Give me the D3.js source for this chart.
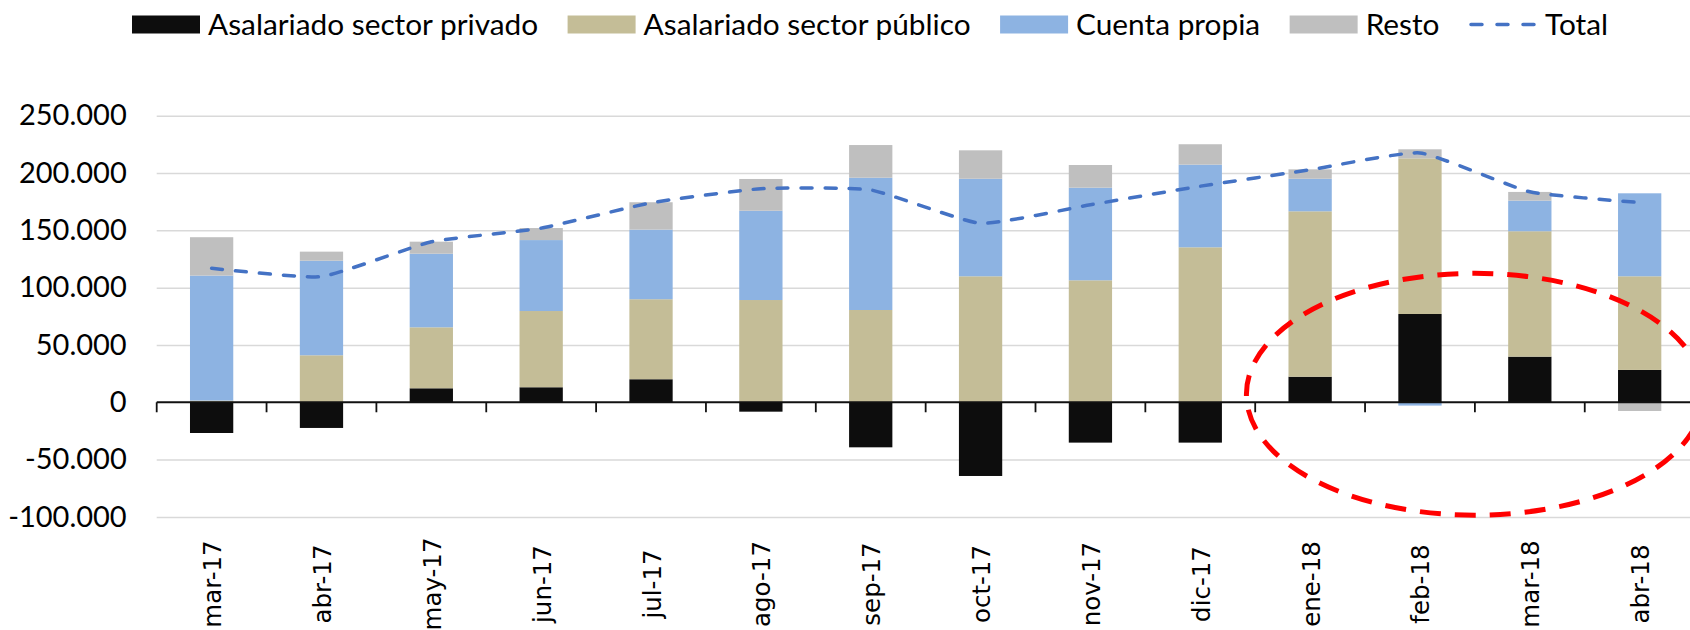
<!DOCTYPE html>
<html>
<head>
<meta charset="utf-8">
<script src="https://cdn.jsdelivr.net/npm/d3@7/dist/d3.min.js"></script>
<style>
  body { margin: 0; background: #fff; }
  svg { display: block; }
</style>
</head>
<body>
<script>
    months = ["mar-17", "abr-17", "may-17", "jun-17", "jul-17", "ago-17", "sep-17",
              "oct-17", "nov-17", "dic-17", "ene-18", "feb-18", "mar-18", "abr-18"]

    privado      = [-26800, -22400, 12200, 13100, 20100, -8200, -39300, -64300, -35200, -35200, 22300, 77000, 39800, 28200]
    publico      = [1500, 41000, 53200, 66500, 69800, 89200, 80500, 109900, 106400, 135200, 144300, 135800, 109400, 81700]
    cuentaPropia = [109000, 82500, 64200, 61900, 60700, 77900, 115400, 85100, 80800, 72100, 28400, -2900, 26700, 72400]
    resto        = [33500, 7900, 10500, 10500, 23900, 27700, 28500, 24800, 19800, 17800, 8200, 7900, 7600, -7600]
    total        = [116900, 109600, 140000, 151900, 174000, 186300, 185200, 156100, 172300, 188500, 202800, 217500, 183600, 174300]

    yTicks = [-100000, -50000, 0, 50000, 100000, 150000, 200000, 250000]

    seriesNames  = ["Asalariado sector privado", "Asalariado sector público", "Cuenta propia", "Resto"]
    seriesColors = ["#0d0d0d", "#c4bd97", "#8db3e2", "#bfbfbf"]
    totalName = "Total"
    totalColor = "#4472c4"


width = 1690
height = 630
plotLeft = 156.7
catStep = 109.85
labelFont = "Lato, 'Open Sans', sans-serif"

var svg = d3.select("body")
    .append("svg")
    .attr("width", width)
    .attr("height", height)
    .style("background", "#fff");

x = d3.scaleBand().domain(months).range([plotLeft, plotLeft + catStep * months.length])
y = d3.scaleLinear().domain([yTicks[0], yTicks[yTicks.length - 1]]).range([516.9, 115.7])
plotRight = x.range()[1]

fmt = d3.formatLocale({decimal: ",", thousands: ".", grouping: [3], currency: ["", ""], minus: "-"}).format(",.0f")

// gridlines (zero is drawn later as the axis)
svg.append("g")
    .attr("transform", "translate(" + plotLeft + ",0)")
    .call(d3.axisLeft(y).tickValues(yTicks.filter(function (d) { return d != 0 }))
        .tickSize(-(plotRight - plotLeft)).tickFormat(""))
    .call(function (g) { g.select(".domain").remove() })
    .selectAll("line")
    .attr("stroke", "#d9d9d9")
    .attr("stroke-width", 1.5);

// y labels
svg.append("g")
    .attr("transform", "translate(" + plotLeft + ",0)")
    .call(d3.axisLeft(y).tickValues(yTicks).tickFormat(fmt).tickSize(0).tickPadding(30))
    .call(function (g) { g.select(".domain").remove() })
    .selectAll("text")
    .attr("font-family", labelFont)
    .attr("font-size", "29px")
    .attr("fill", "#000");

rows = months.map(function (m, i) {
    var r = {month: m}
    r[seriesNames[0]] = privado[i]
    r[seriesNames[1]] = publico[i]
    r[seriesNames[2]] = cuentaPropia[i]
    r[seriesNames[3]] = resto[i]
    return r
})

stacked = d3.stack().keys(seriesNames).offset(d3.stackOffsetDiverging)(rows)
barW = x.bandwidth() * 0.394

var layers = svg.selectAll(".layer")
    .data(stacked)
    .enter()
    .append("g")
    .attr("class", "layer")
    .attr("fill", function (d, i) { return seriesColors[i] });

layers.selectAll("rect")
    .data(function (d) { return d })
    .enter()
    .append("rect")
    .attr("x", function (d) { return x(d.data.month) + (x.bandwidth() - barW) / 2 })
    .attr("y", function (d) { return y(Math.max(d[0], d[1])) })
    .attr("width", barW)
    .attr("height", function (d) { return Math.abs(y(d[0]) - y(d[1])) });

// category axis at zero with ticks on the boundaries
bounds = months.map(function (m) { return x(m) }).concat([plotRight])
svg.append("line")
    .attr("x1", plotLeft).attr("x2", plotRight)
    .attr("y1", y(0)).attr("y2", y(0))
    .attr("stroke", "#111").attr("stroke-width", 1.8);
svg.selectAll(".xtick")
    .data(bounds)
    .enter()
    .append("line")
    .attr("x1", function (d) { return d }).attr("x2", function (d) { return d })
    .attr("y1", y(0)).attr("y2", y(0) + 10)
    .attr("stroke", "#111").attr("stroke-width", 1.8);

svg.selectAll(".xlabel")
    .data(months)
    .enter()
    .append("text")
    .attr("transform", function (d) { return "translate(" + (x(d) + x.bandwidth() / 2 + 9.5) + ",584) rotate(-90)" })
    .attr("text-anchor", "middle")
    .attr("font-family", "'DejaVu Sans', sans-serif")
    .attr("font-size", "24.5px")
    .attr("fill", "#000")
    .text(function (d) { return d });

// total line
var totalLine = d3.line()
    .x(function (d, i) { return x(months[i]) + x.bandwidth() / 2 })
    .y(function (d) { return y(d) })
    .curve(d3.curveCardinal.tension(0.55));

svg.append("path")
    .datum(total)
    .attr("d", totalLine)
    .attr("fill", "none")
    .attr("stroke", totalColor)
    .attr("stroke-width", 3.5)
    .attr("stroke-linecap", "round")
    .attr("stroke-dasharray", "11,13");

// red highlight round the last months
svg.append("ellipse")
    .attr("cx", x("mar-18"))
    .attr("cy", y(7000))
    .attr("rx", catStep * 2.08)
    .attr("ry", y(0) - y(105500))
    .attr("fill", "none")
    .attr("stroke", "#ff0000")
    .attr("stroke-width", 5)
    .attr("stroke-dasharray", "21,14");

// legend
var legend = svg.append("g").attr("transform", "translate(132,0)")
legendX = 0
seriesNames.concat([totalName]).forEach(function (name, i) {
    var item = legend.append("g").attr("transform", "translate(" + legendX + ",0)")
    if (i < seriesNames.length) {
        item.append("rect")
            .attr("x", 0).attr("y", 15.5)
            .attr("width", 68).attr("height", 18)
            .attr("fill", seriesColors[i]);
    } else {
        item.append("line")
            .attr("x1", 2).attr("x2", 68)
            .attr("y1", 24.5).attr("y2", 24.5)
            .attr("stroke", totalColor)
            .attr("stroke-width", 3.5)
            .attr("stroke-linecap", "round")
            .attr("stroke-dasharray", "11,15");
    }
    var t = item.append("text")
        .attr("x", 76).attr("y", 35)
        .attr("font-family", labelFont)
        .attr("font-size", "29.8px")
        .attr("fill", "#000")
        .text(name);
    legendX += 76 + t.node().getComputedTextLength() + 29.5
})
</script>
</body>
</html>
